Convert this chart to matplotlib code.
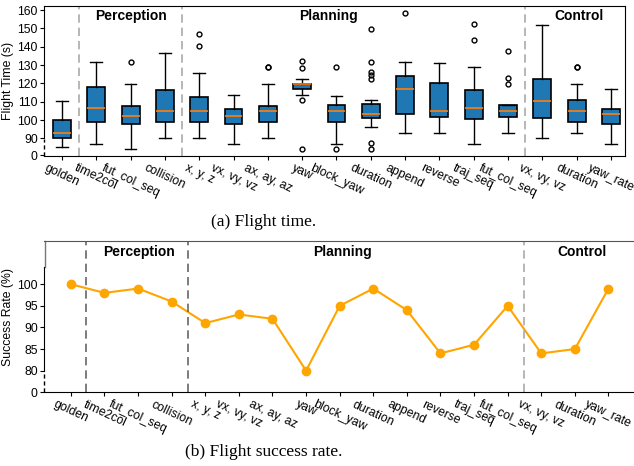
import numpy as np
import matplotlib
matplotlib.use('Agg')
import matplotlib.pyplot as plt

plt.rcParams['font.family'] = ['Liberation Sans', 'DejaVu Sans']

# flight time box stats
labels = ['golden', 'time2col', 'fut_col_seq', 'collision', 'x, y, z', 'vx, vy, vz',
          'ax, ay, az', 'yaw', 'block_yaw', 'duration', 'append', 'reverse',
          'traj_seq', 'fut_col_seq', 'vx, vy, vz', 'duration', 'yaw_rate']
whislo = [85.3, 86.9, 84.0, 90.2, 90.2, 86.9, 90.2, 113.6, 87.0, 96.2, 93.1, 93.1, 87.0, 93.1, 90.2, 93.1, 86.9]
q1 = [90.3, 98.9, 98.0, 98.9, 98.9, 98.0, 98.9, 116.7, 98.9, 101.1, 103.1, 101.5, 100.4, 101.8, 101.3, 99.1, 98.0]
med = [93.0, 106.4, 102.0, 104.7, 104.9, 102.0, 104.9, 119.6, 104.9, 103.4, 117.1, 105.1, 106.4, 104.7, 110.5, 104.9, 103.3]
q3 = [100.0, 118.2, 107.6, 116.2, 112.7, 105.8, 107.8, 119.8, 108.0, 108.5, 124.0, 120.0, 116.2, 108.0, 122.5, 110.9, 105.8]
whishi = [110.3, 131.6, 119.6, 136.7, 125.6, 113.8, 119.8, 122.5, 113.2, 110.9, 131.6, 130.9, 128.7, 108.0, 152.0, 119.8, 116.7]
fliers = [[], [], [131.6], [], [146.7, 140.4], [], [128.7, 129.0],
          [132.0, 128.5, 110.9, 84.2], [128.7, 84.0],
          [149.5, 131.6, 126.2, 124.4, 122.5, 87.2, 84.2], [158.2], [],
          [152.4, 143.6], [137.5, 122.9, 119.8], [], [128.7, 129.0], []]

# success rate (%)
success = [100, 98, 99, 96, 91, 93, 92, 80, 95, 99, 94, 84, 86, 95, 84, 85, 99]

groups = ['Perception', 'Planning', 'Control']

fig = plt.figure(figsize=(6.34, 4.66), dpi=100)

# ---- (a) flight time ----
ax1 = fig.add_axes([0.0694, 0.6661, 0.9164, 0.3210])
stats = []
for i in range(len(labels)):
    stats.append(dict(whislo=whislo[i], q1=q1[i], med=med[i], q3=q3[i],
                      whishi=whishi[i], fliers=fliers[i]))
pos = np.arange(1, len(labels) + 1)
ax1.bxp(stats, positions=pos, widths=0.52, capwidths=0.34, patch_artist=True,
        boxprops=dict(facecolor='#1f77b4', edgecolor='black', linewidth=1.2),
        medianprops=dict(color='#ff7f0e', linewidth=1.2),
        whiskerprops=dict(color='black', linewidth=1),
        capprops=dict(color='black', linewidth=1),
        flierprops=dict(marker='o', markersize=3.5, markerfacecolor='none',
                        markeredgecolor='black', markeredgewidth=1))
ax1.set_xlim(0.475, 17.41)
ax1.set_ylim(80.6, 162.2)
ax1.set_yticks([80.9, 90, 100, 110, 120, 130, 140, 150, 160])
ax1.set_yticklabels(['0', '90', '100', '110', '120', '130', '140', '150', '160'])
ax1.set_xticks(pos)
ax1.set_xticklabels(labels, rotation=-25, ha='center')
ax1.set_ylabel('Flight Time (s)', fontsize=8.8, labelpad=2)
ax1.tick_params(labelsize=8.8, length=3, pad=1.5)
ax1.spines['left'].set_bounds(90, 162.2)
ax1.plot([0, 0], [0, 0.114], transform=ax1.transAxes, color='black', lw=1,
         ls=(0, (3, 2)), clip_on=False)
for xv in [1.5, 4.5, 14.5]:
    ax1.axvline(xv, color='#aaaaaa', ls='--', lw=1.2, dashes=(5, 3))
for xv, g in zip([3, 8.78, 16.07], groups):
    ax1.text(xv, 156.7, g, ha='center', va='center', fontsize=10, fontweight='bold')

# ---- (b) success rate ----
ax2 = fig.add_axes([0.0694, 0.1582, 0.9306, 0.3246])
idx = np.arange(len(labels))
ax2.plot(idx, success, color='#FFA500', lw=1.5, marker='o', markersize=6)
ax2.set_xlim(-0.8, 16.76)
ax2.set_ylim(75, 110)
ax2.set_yticks([75, 80, 85, 90, 95, 100])
ax2.set_yticklabels(['0', '80', '85', '90', '95', '100'])
ax2.set_xticks(idx)
ax2.set_xticklabels(labels, rotation=-25, ha='center')
ax2.set_ylabel('Success Rate (%)', fontsize=8.8, labelpad=2)
ax2.tick_params(labelsize=8.8, length=3, pad=1.5)
ax2.spines['right'].set_visible(False)
ax2.spines['top'].set_color('#555555')
ax2.spines['left'].set_bounds(80, 104)
ax2.plot([0, 0], [0, 0.143], transform=ax2.transAxes, color='black', lw=1,
         ls=(0, (3, 2)), clip_on=False)
ax2.plot([0.0015, 0.0015], [0.83, 1], transform=ax2.transAxes, color='#777777', lw=1,
         clip_on=False)
for xv, c in zip([0.45, 3.5, 13.5], ['#666666', '#666666', '#aaaaaa']):
    ax2.axvline(xv, color=c, ls='--', lw=1.2, dashes=(5, 3))
for xv, g in zip([2.02, 8.07, 15.2], groups):
    ax2.text(xv, 107.5, g, ha='center', va='center', fontsize=10, fontweight='bold')

fig.text(264 / 634, 1 - 222 / 466, '(a) Flight time.', ha='center', va='center',
         fontsize=12.5, family='Liberation Serif')
fig.text(264 / 634, 1 - 452 / 466, '(b) Flight success rate.', ha='center', va='center',
         fontsize=12.5, family='Liberation Serif')

fig.savefig('out.png', dpi=100)
